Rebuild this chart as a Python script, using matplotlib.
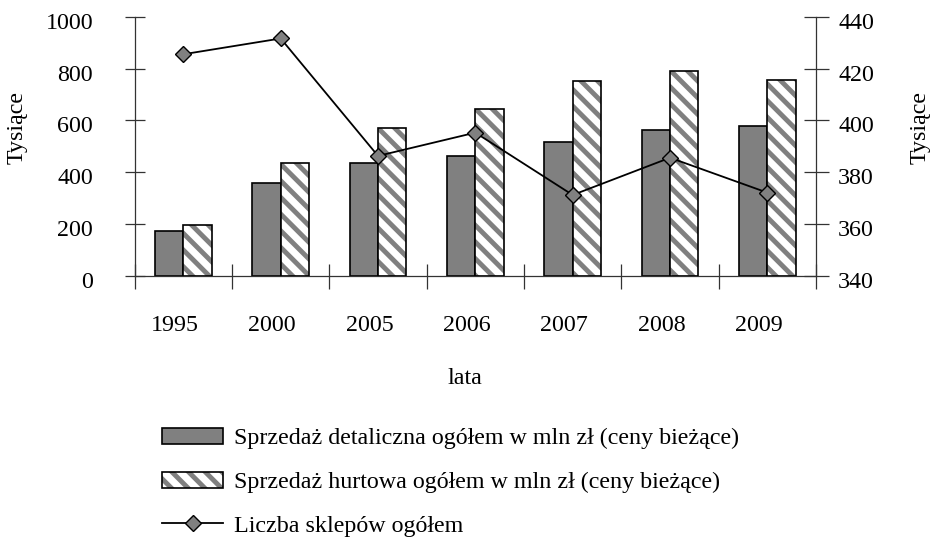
import matplotlib
matplotlib.use("Agg")
import matplotlib.pyplot as plt
from matplotlib.patches import Patch
from matplotlib.lines import Line2D
from matplotlib.legend_handler import HandlerTuple
from matplotlib.transforms import ScaledTranslation
import numpy as np

plt.rcParams['font.family'] = ['Liberation Serif', 'DejaVu Serif']
plt.rcParams['hatch.linewidth'] = 3.5

years = ['1995', '2000', '2005', '2006', '2007', '2008', '2009']
retail = [171, 357, 437, 464, 518, 563, 580]
wholesale = [197, 437, 572, 643, 751, 793, 758]
shops = [425.6, 431.7, 386.3, 395.3, 371.2, 385.6, 372.1]

left_ticks = [0, 200, 400, 600, 800, 1000]
right_ticks = [340, 360, 380, 400, 420, 440]

FS = 17.3
GRAY = '#808080'
AX = '#333333'
HATCH = '\\\\'

fig = plt.figure(figsize=(9.34, 5.39), dpi=100)
ax = fig.add_axes([134.7/934, 1-275.7/539, (816-134.7)/934, (275.7-17)/539])
ax2 = ax.twinx()

x = np.arange(len(years))
w = 0.29
ax.bar(x - w/2, retail, w, color=GRAY, edgecolor='black', linewidth=1.2, zorder=2)
ax.bar(x + w/2, wholesale, w, color='white', edgecolor=GRAY, hatch=HATCH, linewidth=0, zorder=2)
ax.bar(x + w/2, wholesale, w, fill=False, edgecolor='black', linewidth=1.2, zorder=3)

ax2.plot(x, shops, color='black', linewidth=1.3, marker='D', markersize=8,
         markerfacecolor=GRAY, markeredgecolor='black', markeredgewidth=1.0, zorder=5)

ax.set_xlim(-0.5, len(years) - 0.5)
ax.set_ylim(0, 1000)
ax2.set_ylim(340, 440)

ax.set_yticks(left_ticks)
ax.set_yticklabels([str(v) for v in left_ticks])
ax2.set_yticks(right_ticks)
ax2.set_yticklabels([str(v) for v in right_ticks])

ax.set_xticks(np.arange(-0.5, len(years), 1.0))
ax.set_xticklabels([])
ax.set_xticks(x, minor=True)
ax.set_xticklabels(years, minor=True)
ax.tick_params(axis='x', which='major', direction='inout', length=18, width=0.9, color=AX)
ax.tick_params(axis='x', which='minor', length=0, pad=28, labelsize=FS)
ax.tick_params(axis='y', direction='inout', length=14, width=0.9, color=AX, pad=23, labelsize=FS)
ax2.tick_params(axis='y', direction='inout', length=18, width=0.9, color=AX, pad=7, labelsize=FS)

for s in ['top']:
    ax.spines[s].set_visible(False)
    ax2.spines[s].set_visible(False)
ax2.spines['left'].set_visible(False)
ax2.spines['bottom'].set_visible(False)
ax.spines['right'].set_visible(False)
for sp in [ax.spines['left'], ax.spines['bottom'], ax2.spines['right']]:
    sp.set_color(AX)
    sp.set_linewidth(0.9)

dx = ScaledTranslation(-8.5/100, 0, fig.dpi_scale_trans)
for lab in ax.get_xticklabels(minor=True):
    lab.set_transform(lab.get_transform() + dx)
dy = ScaledTranslation(0, -4/100, fig.dpi_scale_trans)
for lab in ax.get_yticklabels() + ax2.get_yticklabels():
    lab.set_transform(lab.get_transform() + dy)

fig.text(17.5/934, 1-128/539, 'Tysiące', rotation=90, ha='center', va='center', fontsize=FS)
fig.text(920/934, 1-128/539, 'Tysiące', rotation=90, ha='center', va='center', fontsize=FS)
fig.text(465/934, 1-378/539, 'lata', ha='center', va='center', fontsize=FS)

h1 = Patch(facecolor=GRAY, edgecolor='black', linewidth=1.2)
h2a = Patch(facecolor='white', edgecolor=GRAY, hatch=HATCH, linewidth=0)
h2b = Patch(fill=False, edgecolor='black', linewidth=1.2)
h3 = Line2D([], [], color='black', linewidth=1.3, marker='D', markersize=8,
            markerfacecolor=GRAY, markeredgecolor='black', markeredgewidth=1.0)
labels = ['Sprzedaż detaliczna ogółem w mln zł (ceny bieżące)',
          'Sprzedaż hurtowa ogółem w mln zł (ceny bieżące)',
          'Liczba sklepów ogółem']
fig.legend([h1, (h2a, h2b), h3], labels,
           handler_map={tuple: HandlerTuple(ndivide=1, pad=0)},
           loc='upper left', bbox_to_anchor=(162/934, 1-428/539),
           frameon=False, fontsize=FS, handlelength=2.55, handleheight=0.65,
           handletextpad=0.45, labelspacing=0.92, borderpad=0, borderaxespad=0)

fig.savefig('out.png', dpi=100)
